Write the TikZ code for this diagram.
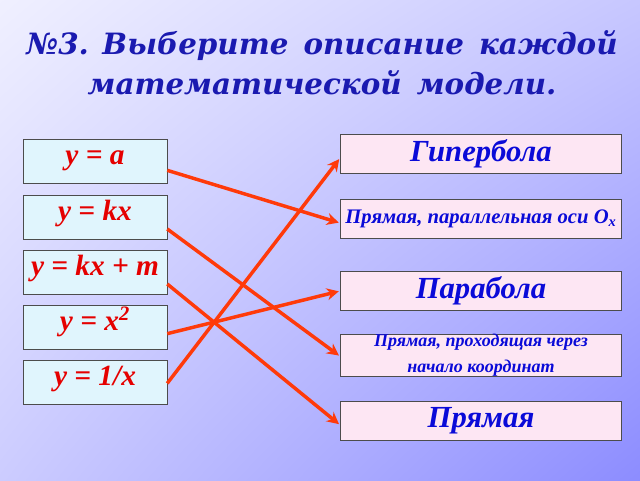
\documentclass[tikz,border=0pt]{standalone}
\usepackage{fontspec}
\setmainfont{Liberation Serif}
\newfontfamily\titlefont{DejaVu Serif}
\usetikzlibrary{arrows.meta,shadings}
\definecolor{lineRed}{HTML}{FF3A0A}
\definecolor{textBlue}{HTML}{0A0AD8}
\definecolor{titleBlue}{HTML}{1A1AB0}
\tikzset{
  formula/.style={draw=black!70,fill=cyan!12,minimum width=108pt,minimum height=33pt,inner sep=0pt,
    text height=0.72em,text depth=0.22em,
    text=red!90!black,font=\fontsize{22}{24}\selectfont\bfseries\itshape},
  answer/.style={draw=black!70,fill=magenta!10,minimum width=211pt,minimum height=29pt,inner sep=0pt,
    text=textBlue,font=\bfseries\itshape,align=center},
  link/.style={lineRed,line width=2.6pt,-{Stealth[length=9pt,width=9pt]},shorten >=1pt}
}
\begin{document}
\begin{tikzpicture}[x=0.75pt,y=-0.75pt]
  \shade[upper left=blue!6!white,upper right=blue!22!white,lower left=blue!20!white,lower right=blue!45!white] (0,0) rectangle (640,480);
  \useasboundingbox (0,0) rectangle (640,480);
  \node[text=titleBlue,font=\titlefont\fontsize{22}{30}\selectfont\bfseries\itshape,align=center] (title) at (322,63)
    {№3. Выберите\, описание\, каждой\\математической\, модели.};
  \node[formula] (ya) at (95,161) {y = a};
  \node[formula] (ykx) at (95,217) {y = kx};
  \node[formula] (ykxm) at (95,272) {y = kx + m};
  \node[formula] (yxx) at (95,327) {y = x\textsuperscript{2}};
  \node[formula] (yinv) at (95,382) {y = 1/x};
  \node[answer,font=\fontsize{23}{26}\selectfont\bfseries\itshape] (hyp) at (481,154) {Гипербола};
  \node[answer,font=\fontsize{15.5}{18}\selectfont\bfseries\itshape] (par) at (481,219) {Прямая, параллельная оси O\textsubscript{\itshape x}};
  \node[answer,font=\fontsize{23}{26}\selectfont\bfseries\itshape] (parab) at (481,291) {Парабола};
  \node[answer,font=\fontsize{13.5}{19}\selectfont\bfseries\itshape] (orig) at (481,355) {Прямая, проходящая через\\начало координат};
  \node[answer,font=\fontsize{23}{26}\selectfont\bfseries\itshape] (line) at (481,421) {Прямая};
  \draw[link] ([yshift=-7pt]ya.east) -- ([yshift=-3pt]par.west);
  \draw[link] ([yshift=-9pt]ykx.east) -- ([yshift=-1pt]orig.west);
  \draw[link] ([yshift=-9pt]ykxm.east) -- ([yshift=-3pt]line.west);
  \draw[link] ([yshift=-5pt]yxx.east) -- (parab.west);
  \draw[link] ([yshift=-1pt]yinv.east) -- ([yshift=-3pt]hyp.west);
\end{tikzpicture}
\end{document}
